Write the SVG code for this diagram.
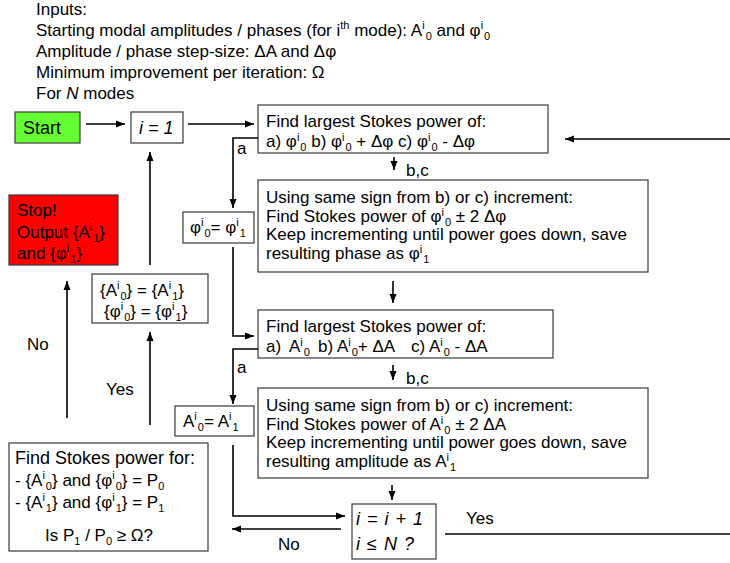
<svg xmlns="http://www.w3.org/2000/svg" width="730" height="563" viewBox="0 0 730 563">
<defs>
<marker id="ah" markerWidth="10" markerHeight="8" refX="9" refY="4" orient="auto" markerUnits="userSpaceOnUse">
<path d="M0,0.5 L9,4 L0,7.5 Z" fill="#000"/>
</marker>
<style>
text{font-family:"Liberation Sans",Arial,sans-serif;fill:#000}
.top{font-size:17px}
.bx{font-size:17px}
.lg{font-size:18px}
.md{font-size:17px}
.s{font-size:11px}
.it{font-style:italic}
.wide{letter-spacing:1px}
.box{fill:#fff;stroke:#3a3a3a;stroke-width:1.2}
.con{fill:none;stroke:#000;stroke-width:1.6}
.arr{marker-end:url(#ah)}
</style>
</defs>
<rect width="730" height="563" fill="#fff"/>

<g id="inputs">
<text class="top" x="36" y="15">Inputs:</text>
<text class="top" x="36" y="36">Starting modal amplitudes / phases (for i<tspan class="s" dy="-7">th</tspan><tspan dy="7"> mode): A</tspan><tspan class="s" dy="-7">i</tspan><tspan class="s" dx="1" dy="11">0</tspan><tspan dy="-4"> and φ</tspan><tspan class="s" dy="-7">i</tspan><tspan class="s" dx="1" dy="11">0</tspan></text>
<text class="top" x="36" y="57">Amplitude / phase step-size: ΔA and Δφ</text>
<text class="top" x="36" y="78">Minimum improvement per iteration: Ω</text>
<text class="top" x="36" y="99">For <tspan class="it">N</tspan> modes</text>
</g>

<g id="start">
<rect x="15" y="112" width="65" height="31" fill="#66ff33" stroke="#3a3a3a" stroke-width="1.2"/>
<text class="lg" x="23" y="134">Start</text>
</g>

<g id="init">
<rect class="box" x="131" y="112" width="52" height="31"/>
<text class="lg it" x="139" y="134">i = 1</text>
</g>

<g id="phaseSearch">
<rect class="box" x="258" y="105" width="290" height="48"/>
<text class="bx" x="266" y="127">Find largest Stokes power of:</text>
<text class="bx" x="266" y="147">a) φ<tspan class="s" dy="-6">i</tspan><tspan class="s" dx="1" dy="10">0</tspan><tspan dy="-4"> b) φ</tspan><tspan class="s" dy="-6">i</tspan><tspan class="s" dx="1" dy="10">0</tspan><tspan dy="-4"> + Δφ c) φ</tspan><tspan class="s" dy="-6">i</tspan><tspan class="s" dx="1" dy="10">0</tspan><tspan dy="-4"> - Δφ</tspan></text>
</g>

<g id="phaseIncrement">
<rect class="box" x="258" y="180" width="390" height="92"/>
<text class="bx" x="266" y="203">Using same sign from b) or c) increment:</text>
<text class="bx" x="266" y="222">Find Stokes power of φ<tspan class="s" dy="-6">i</tspan><tspan class="s" dx="1" dy="10">0</tspan><tspan dy="-4"> ± 2 Δφ</tspan></text>
<text class="bx" x="266" y="240">Keep incrementing until power goes down, save</text>
<text class="bx" x="266" y="259">resulting phase as φ<tspan class="s" dy="-6">i</tspan><tspan class="s" dx="1" dy="10">1</tspan></text>
</g>

<g id="phaseKeep">
<rect class="box" x="183" y="212" width="71" height="31"/>
<text class="md" x="190" y="233">φ<tspan class="s" dy="-7">i</tspan><tspan class="s" dx="1" dy="11">0</tspan><tspan dy="-4">= φ</tspan><tspan class="s" dy="-7">i</tspan><tspan class="s" dx="1" dy="11">1</tspan></text>
</g>

<g id="ampSearch">
<rect class="box" x="258" y="310" width="295" height="48"/>
<text class="bx" x="266" y="332">Find largest Stokes power of:</text>
<text class="bx" y="352"><tspan x="266">a)</tspan><tspan x="289">A</tspan><tspan class="s" dy="-6">i</tspan><tspan class="s" dx="1" dy="10">0</tspan><tspan x="318" dy="-4">b) A</tspan><tspan class="s" dy="-6">i</tspan><tspan class="s" dx="1" dy="10">0</tspan><tspan dy="-4">+ ΔA</tspan><tspan x="411">c) A</tspan><tspan class="s" dy="-6">i</tspan><tspan class="s" dx="1" dy="10">0</tspan><tspan dy="-4"> - ΔA</tspan></text>
</g>

<g id="ampIncrement">
<rect class="box" x="258" y="388" width="390" height="90"/>
<text class="bx" x="266" y="411">Using same sign from b) or c) increment:</text>
<text class="bx" x="266" y="430">Find Stokes power of A<tspan class="s" dy="-6">i</tspan><tspan class="s" dx="1" dy="10">0</tspan><tspan dy="-4"> ± 2 ΔA</tspan></text>
<text class="bx" x="266" y="448">Keep incrementing until power goes down, save</text>
<text class="bx" x="266" y="467">resulting amplitude as A<tspan class="s" dy="-6">i</tspan><tspan class="s" dx="1" dy="10">1</tspan></text>
</g>

<g id="ampKeep">
<rect class="box" x="175" y="406" width="79" height="30"/>
<text class="md" x="183" y="427">A<tspan class="s" dy="-7">i</tspan><tspan class="s" dx="1" dy="11">0</tspan><tspan dy="-4">= A</tspan><tspan class="s" dy="-7">i</tspan><tspan class="s" dx="1" dy="11">1</tspan></text>
</g>

<g id="nextMode">
<rect class="box" x="352" y="504" width="84" height="55"/>
<text class="lg it wide" x="356" y="525">i = i + 1</text>
<text class="lg it wide" x="356" y="550">i ≤ N ?</text>
</g>

<g id="evaluate">
<rect class="box" x="9" y="443" width="199" height="108"/>
<text class="lg" x="15" y="464">Find Stokes power for:</text>
<text class="md" x="15" y="486">- {A<tspan class="s" dy="-7">i</tspan><tspan class="s" dx="1" dy="11">0</tspan><tspan dy="-4">} and {φ</tspan><tspan class="s" dy="-7">i</tspan><tspan class="s" dx="1" dy="11">0</tspan><tspan dy="-4">}  = P</tspan><tspan class="s" dy="4">0</tspan></text>
<text class="md" x="15" y="508">- {A<tspan class="s" dy="-7">i</tspan><tspan class="s" dx="1" dy="11">1</tspan><tspan dy="-4">} and {φ</tspan><tspan class="s" dy="-7">i</tspan><tspan class="s" dx="1" dy="11">1</tspan><tspan dy="-4">}  = P</tspan><tspan class="s" dy="4">1</tspan></text>
<text class="md" x="45" y="541">Is P<tspan class="s" dy="4">1</tspan><tspan dy="-4"> / P</tspan><tspan class="s" dy="4">0</tspan><tspan dy="-4"> ≥ Ω?</tspan></text>
</g>

<g id="update">
<rect class="box" x="92" y="274" width="116" height="49"/>
<text class="md" x="100" y="296">{A<tspan class="s" dy="-7">i</tspan><tspan class="s" dx="1" dy="11">0</tspan><tspan dy="-4">} = {A</tspan><tspan class="s" dy="-7">i</tspan><tspan class="s" dx="1" dy="11">1</tspan><tspan dy="-4">}</tspan></text>
<text class="md" x="104" y="317">{φ<tspan class="s" dy="-7">i</tspan><tspan class="s" dx="1" dy="11">0</tspan><tspan dy="-4">} = {φ</tspan><tspan class="s" dy="-7">i</tspan><tspan class="s" dx="1" dy="11">1</tspan><tspan dy="-4">}</tspan></text>
</g>

<g id="stop">
<rect x="9" y="195" width="109" height="70" fill="#ff0000" stroke="#3a3a3a" stroke-width="1.2"/>
<text class="md" x="17" y="216">Stop!</text>
<text class="md" x="17" y="238">Output {A<tspan class="s" dy="-7">i</tspan><tspan class="s" dx="1" dy="11">1</tspan><tspan dy="-4">}</tspan></text>
<text class="md" x="17" y="259">and {φ<tspan class="s" dy="-7">i</tspan><tspan class="s" dx="1" dy="11">1</tspan><tspan dy="-4">}</tspan></text>
</g>

<g id="connectors">
<line class="con arr" x1="86" y1="124" x2="125" y2="124"/>
<line class="con arr" x1="188" y1="124" x2="254" y2="124"/>
<line class="con arr" x1="730" y1="139" x2="565" y2="139"/>
<polyline class="con arr" points="258,138 233,138 233,208"/>
<line class="con arr" x1="394" y1="157" x2="394" y2="170"/>
<polyline class="con arr" points="233,247 233,336 254,336"/>
<line class="con arr" x1="393" y1="281" x2="393" y2="303"/>
<polyline class="con arr" points="258,349 233,349 233,404"/>
<line class="con arr" x1="393" y1="365" x2="393" y2="380"/>
<polyline class="con arr" points="233,445 233,516 345,516"/>
<line class="con arr" x1="392" y1="485" x2="392" y2="500"/>
<line class="con arr" x1="341" y1="529" x2="232" y2="529"/>
<line class="con" x1="445" y1="534" x2="730" y2="534"/>
<line class="con arr" x1="67" y1="418" x2="67" y2="281"/>
<line class="con arr" x1="150" y1="425" x2="150" y2="332"/>
<line class="con arr" x1="150" y1="265" x2="150" y2="152"/>
<text class="md" x="237" y="154">a</text>
<text class="md" x="406" y="176">b,c</text>
<text class="md" x="237" y="373">a</text>
<text class="md" x="406" y="384">b,c</text>
<text class="md" x="278" y="550">No</text>
<text class="md" x="466" y="524">Yes</text>
<text class="md" x="27" y="350">No</text>
<text class="md" x="106" y="395">Yes</text>
</g>
</svg>
